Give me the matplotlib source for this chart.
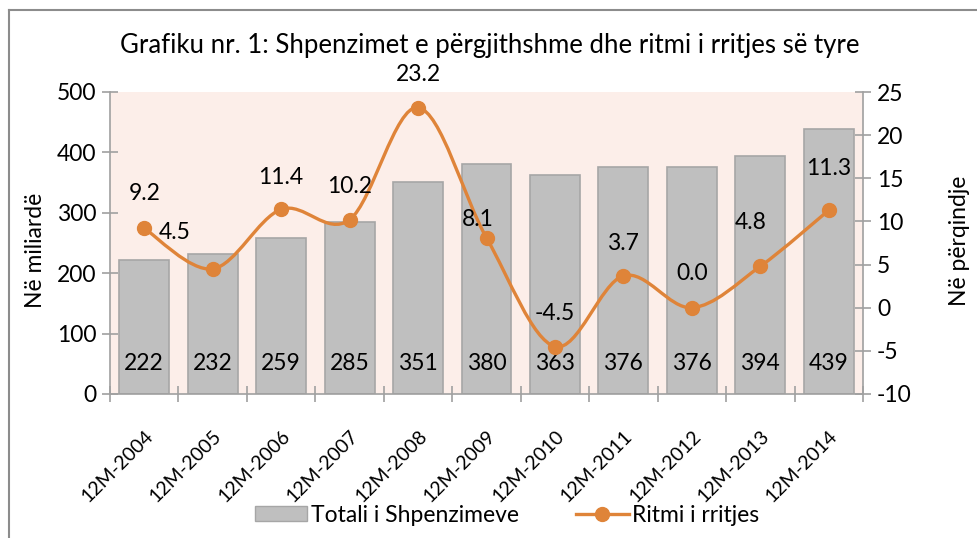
import matplotlib
matplotlib.use('Agg')
import matplotlib.pyplot as plt
import numpy as np
from matplotlib.path import Path
from matplotlib.patches import PathPatch, Patch
from matplotlib.lines import Line2D

categories = ['12M-2004', '12M-2005', '12M-2006', '12M-2007', '12M-2008', '12M-2009',
              '12M-2010', '12M-2011', '12M-2012', '12M-2013', '12M-2014']
totals = [222, 232, 259, 285, 351, 380, 363, 376, 376, 394, 439]
growth = [9.2, 4.5, 11.4, 10.2, 23.2, 8.1, -4.5, 3.7, 0.0, 4.8, 11.3]
left_ticks = [0, 100, 200, 300, 400, 500]
right_ticks = [-10, -5, 0, 5, 10, 15, 20, 25]

# label offsets for growth labels (pixels)
growth_offsets = [(0, 35), (-38, 36), (0, 32), (0, 33), (0, 33), (-9, 18),
                  (0, 33), (0, 32), (0, 34), (-10, 44), (0, 42)]

plt.rcParams['font.family'] = ['Lato', 'DejaVu Sans']
plt.rcParams['axes.unicode_minus'] = False

W, H = 977, 538
fig = plt.figure(figsize=(W / 100, H / 100), dpi=100)
ax = fig.add_axes([110 / W, 1 - 394 / H, 753 / W, 302 / H])
ax2 = ax.twinx()

bg = '#FCEEE9'
bar_c = '#BFBFBF'
bar_e = '#A6A6A6'
line_c = '#DF8439'
axis_c = '#A0A0A0'
fs = 16.5

ax.set_facecolor(bg)
ax2.patch.set_visible(False)
ax.set_zorder(1)
ax2.set_zorder(2)

x = np.arange(len(categories))
ax.bar(x, totals, width=0.73, color=bar_c, edgecolor=bar_e, linewidth=1.2, zorder=2)
for xi, v in zip(x, totals):
    ax.annotate(str(v), xy=(xi, 0), xytext=(0, 30), textcoords='offset pixels',
                ha='center', va='center', fontsize=fs, color='black', zorder=3)

ax.set_xlim(-0.5, len(categories) - 0.5)
ax.set_ylim(0, 500)
ax.set_yticks(left_ticks)
ax.set_xticks(x)
ax.set_xticklabels(categories, rotation=45, ha='right', rotation_mode='anchor', fontsize=14)
ax.set_xticks(np.arange(-0.5, len(categories)), minor=True)
ax.tick_params(axis='x', which='major', length=0, pad=24)
ax.tick_params(axis='x', which='minor', direction='inout', length=12, color=axis_c, width=1.2)
ax.tick_params(axis='y', direction='inout', length=12, color=axis_c, width=1.2, labelsize=fs, pad=4)

# smooth line (Catmull-Rom -> cubic Bezier)
pts = np.column_stack([x, growth]).astype(float)
verts = [tuple(pts[0])]
codes = [Path.MOVETO]
n = len(pts)
for i in range(n - 1):
    p0 = pts[i - 1] if i > 0 else pts[i]
    p1 = pts[i]
    p2 = pts[i + 1]
    p3 = pts[i + 2] if i + 2 < n else pts[i + 1]
    c1 = p1 + (p2 - p0) / 6.0
    c2 = p2 - (p3 - p1) / 6.0
    verts += [tuple(c1), tuple(c2), tuple(p2)]
    codes += [Path.CURVE4, Path.CURVE4, Path.CURVE4]
ax2.add_patch(PathPatch(Path(verts, codes), facecolor='none', edgecolor=line_c, lw=2.4, zorder=3,
                        capstyle='round', joinstyle='round'))
ax2.plot(x, growth, 'o', color=line_c, ms=10, zorder=4)
for xi, v, (dx, dy) in zip(x, growth, growth_offsets):
    ax2.annotate(f'{v:.1f}', xy=(xi, v), xytext=(dx, dy), textcoords='offset pixels',
                 ha='center', va='center', fontsize=fs, color='black', zorder=5)

ax2.set_ylim(-10, 25)
ax2.set_yticks(right_ticks)
ax2.tick_params(axis='y', direction='inout', length=12, color=axis_c, width=1.2, labelsize=fs, pad=4)

for a in (ax, ax2):
    for s in a.spines.values():
        s.set_visible(False)
ax.spines['left'].set_visible(True)
ax.spines['left'].set_color(axis_c)
ax.spines['left'].set_linewidth(1.2)
ax.spines['bottom'].set_visible(True)
ax.spines['bottom'].set_color(axis_c)
ax.spines['bottom'].set_linewidth(1.2)
ax2.spines['right'].set_visible(True)
ax2.spines['right'].set_color(axis_c)
ax2.spines['right'].set_linewidth(1.2)

fig.text(35 / W, 1 - 250 / H, 'Në miliardë', rotation=90, ha='center', va='center', fontsize=fs)
fig.text(960 / W, 1 - 241 / H, 'Në përqindje', rotation=90, ha='center', va='center', fontsize=fs)
fig.text(490 / W, 1 - 45 / H, 'Grafiku nr. 1: Shpenzimet e përgjithshme dhe ritmi i rritjes së tyre',
         ha='center', va='center', fontsize=18.5)

handles = [Patch(facecolor=bar_c, edgecolor=bar_e, label='Totali i Shpenzimeve'),
           Line2D([], [], color=line_c, lw=2.4, marker='o', ms=10, label='Ritmi i rritjes')]
fig.legend(handles=handles, loc='center', bbox_to_anchor=(507 / W, 1 - 515 / H), ncol=2,
           frameon=False, fontsize=fs, handlelength=2.3, handleheight=0.65, handletextpad=0.15,
           columnspacing=2.5)

fig.add_artist(Line2D([9 / W, 9 / W], [0, 1 - 10 / H], transform=fig.transFigure, color='#8C8C8C', lw=1.5))
fig.add_artist(Line2D([9 / W, 1], [1 - 10 / H, 1 - 10 / H], transform=fig.transFigure, color='#8C8C8C', lw=1.5))

fig.savefig('out.png', dpi=100)
